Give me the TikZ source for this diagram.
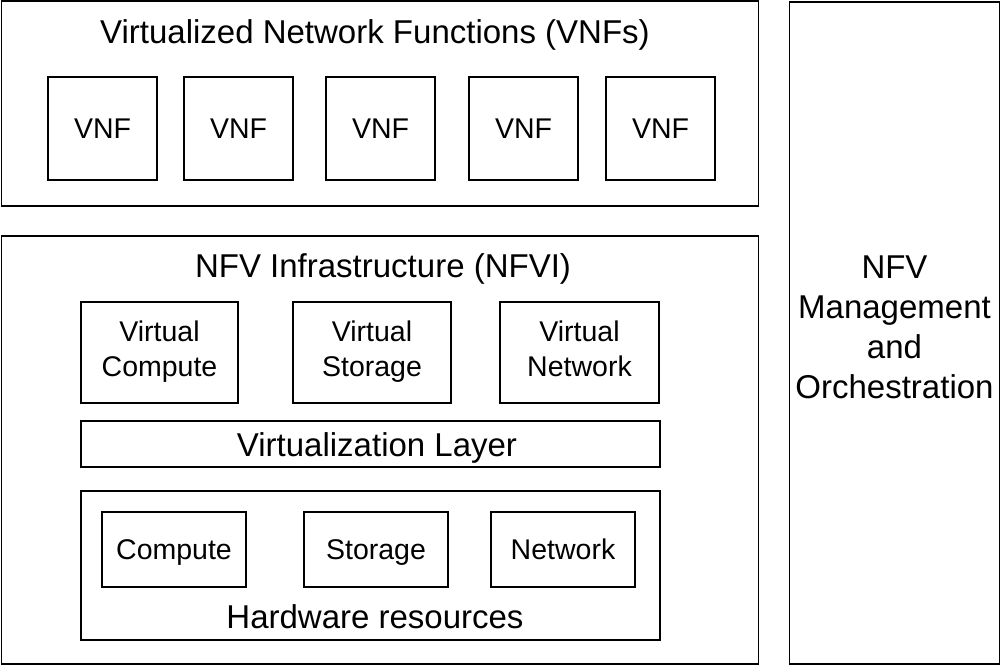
\documentclass[tikz,border=0pt]{standalone}
\usepackage{fontspec}
\setmainfont{Liberation Sans}
\begin{document}
\begin{tikzpicture}[x=1pt,y=-1pt,
  frame/.style={draw,line width=1.8pt,inner sep=0pt},
  bigtxt/.style={font=\fontsize{33}{40}\selectfont,align=center,inner sep=0pt,
    execute at begin node={\rule[-7pt]{0pt}{38pt}},execute at end node={\rule[-7pt]{0pt}{38pt}}},
  boxtxt/.style={font=\fontsize{28.5}{35}\selectfont,align=center,
    execute at begin node={\rule[-7pt]{0pt}{34pt}},execute at end node={\rule[-7pt]{0pt}{34pt}}}]
\useasboundingbox (0,0) rectangle (1002,666);
% VNF layer
\node[frame,minimum width=757,minimum height=205] (vnfs) at (380,103.5) {};
\node[bigtxt] (vnfstitle) at (375,31.5) {Virtualized Network Functions (VNFs)};
\foreach \x [count=\i] in {102.5,238.5,380.5,523.5,660.5}
  \node[frame,boxtxt,minimum width=109,minimum height=103] (vnf\i) at (\x,128.5) {VNF};
% management and orchestration
\node[frame,minimum width=210,minimum height=662] (mano) at (894.5,333) {};
\node[bigtxt] (manotxt) at (894.5,331) {NFV\\Management\\and\\Orchestration};
% NFVI
\node[frame,minimum width=757,minimum height=428] (nfvi) at (380,450) {};
\node[bigtxt] (nfvititle) at (383,265) {NFV Infrastructure (NFVI)};
\node[frame,boxtxt,minimum width=157,minimum height=101] (vcomp) at (159.5,352.5) {Virtual\\Compute};
\node[frame,boxtxt,minimum width=158,minimum height=101] (vstor) at (372,352.5) {Virtual\\Storage};
\node[frame,boxtxt,minimum width=159,minimum height=101] (vnet) at (579.5,352.5) {Virtual\\Network};
\node[frame,minimum width=579,minimum height=46] (vlayer) at (370.5,444) {};
\node[bigtxt] (vlayertxt) at (377,444.5) {Virtualization Layer};
% hardware
\node[frame,minimum width=579,minimum height=149] (hw) at (370.5,565.5) {};
\node[frame,boxtxt,minimum width=144,minimum height=75] (comp) at (174,549.5) {Compute};
\node[frame,boxtxt,minimum width=144,minimum height=75] (stor) at (376,549.5) {Storage};
\node[frame,boxtxt,minimum width=144,minimum height=75] (net) at (563,549.5) {Network};
\node[bigtxt] (hwtxt) at (375,616) {Hardware resources};
\end{tikzpicture}
\end{document}
